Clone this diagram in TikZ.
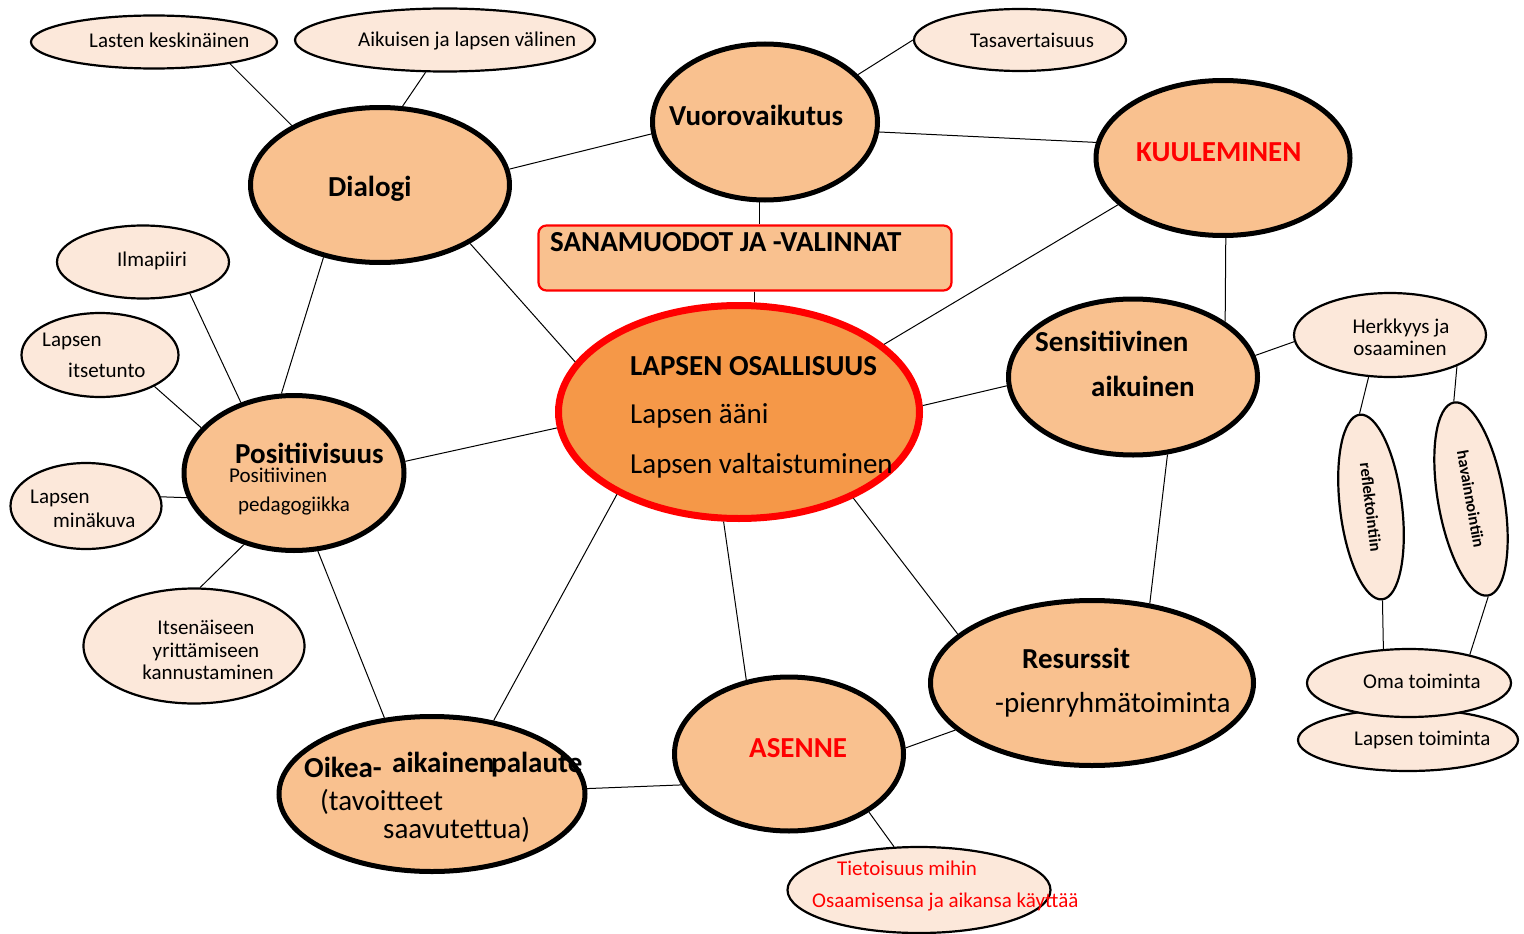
\documentclass[tikz,border=0pt]{standalone}
\usepackage{fontspec}
\setmainfont{Carlito}
\usetikzlibrary{shapes.geometric}
\definecolor{bigfill}{HTML}{F9C18F}
\definecolor{cenfill}{HTML}{F59848}
\definecolor{smallfill}{HTML}{FCE8DA}
\definecolor{myred}{HTML}{FF0000}
\begin{document}
\begin{tikzpicture}[x=1pt,y=-1pt,
  big/.style={ellipse, draw=black, line width=5pt, fill=bigfill, inner sep=0pt},
  small/.style={ellipse, draw=black, line width=2.2pt, fill=smallfill, inner sep=0pt},
  conn/.style={line width=1pt},
  tl/.style={font=\fontsize{29}{35}\selectfont, anchor=base west, inner sep=0pt},
  tlb/.style={font=\fontsize{29}{35}\selectfont\bfseries, anchor=base west, inner sep=0pt},
  ts/.style={font=\fontsize{21}{25}\selectfont, anchor=base west, inner sep=0pt},
  tsc/.style={font=\fontsize{21}{25}\selectfont, anchor=base, inner sep=0pt},
  tv/.style={font=\fontsize{16.5}{20}\selectfont\bfseries},
]
\useasboundingbox (0,0) rectangle (1524,934);

% small ellipses
\node[small, minimum width=246, minimum height=53] (las) at (154,42) {};
\node[small, minimum width=300, minimum height=63] (aik) at (445,40) {};
\node[small, minimum width=212, minimum height=62] (tas) at (1020,40) {};
\node[small, minimum width=172, minimum height=73] (ilm) at (143,262) {};
\node[small, minimum width=157, minimum height=84] (its) at (100,355) {};
\node[small, minimum width=151, minimum height=86] (min) at (86,506) {};
\node[small, minimum width=221, minimum height=115] (itn) at (194,646) {};
\node[small, minimum width=192, minimum height=84] (her) at (1390,335) {};
\node[small, tv, minimum width=186, minimum height=62, rotate=-83] (refl) at (1371,507) {reflektointiin};
\node[small, tv, minimum width=196, minimum height=66, rotate=-80] (hav) at (1471,499) {havainnointiin};
\node[small, minimum width=220, minimum height=62] (lap) at (1408,740) {};
\node[small, minimum width=204, minimum height=68] (oma) at (1409,683) {};
\node[small, minimum width=263, minimum height=86] (tie) at (919,890) {};

% big ellipses
\node[big, minimum width=259, minimum height=155] (dia) at (380,185) {};
\node[big, minimum width=225, minimum height=156] (vuo) at (765,122) {};
\node[big, minimum width=254, minimum height=155] (kuu) at (1223,158) {};
\node[big, minimum width=249, minimum height=156] (sen) at (1133,377) {};
\node[big, minimum width=323, minimum height=165] (res) at (1092,683) {};
\node[big, minimum width=229, minimum height=154] (ase) at (789,754) {};
\node[big, minimum width=306, minimum height=155] (oik) at (432,794) {};
\node[big, minimum width=220, minimum height=155] (pos) at (294,473) {};
\node[ellipse, draw=myred, line width=7pt, fill=cenfill, inner sep=0pt,
      minimum width=361, minimum height=213] (cen) at (739,412) {};
\node[draw=myred, line width=2.2pt, fill=bigfill, rounded corners=8pt,
      minimum width=413, minimum height=65, inner sep=0pt] (box) at (745,258) {};

% connectors
\draw[conn] (las.-16) -- (dia.146);
\draw[conn] (aik.-121) -- (dia.74);
\draw[conn] (tas.180) -- (vuo.27);
\draw[conn] (dia.7) -- (vuo.-174);
\draw[conn] (vuo.-5) -- (kuu.173);
\draw[conn] (vuo.-94) -- (vuo.-94 |- box.north);
\draw[conn] (box.south -| cen.82) -- (cen.82);
\draw[conn] (dia.-33) -- (cen.163);
\draw[conn] (dia.-128) -- (pos.99);
\draw[conn] (kuu.-156) -- (cen.25);
\draw[conn] (kuu.-88) -- (sen.31);
\draw[conn] (sen.184) -- (cen.2);
\draw[conn] (sen.10) -- (her.184);
\draw[conn] (sen.-66) -- (res.54);
\draw[conn] (her.-117) -- (refl.west);
\draw[conn] (her.-25) -- (hav.west);
\draw[conn] (refl.east) -- (oma.127);
\draw[conn] (hav.east) -- (oma.25);
\draw[conn] (cen.-37) -- (res.160);
\draw[conn] (cen.-98) -- (ase.120);
\draw[conn] (cen.-146) -- (oik.50);
\draw[conn] (cen.185) -- (pos.6);
\draw[conn] (ilm.-34) -- (pos.127);
\draw[conn] (its.-30) -- (pos.154);
\draw[conn] (min.7) -- (pos.193);
\draw[conn] (itn.84) -- (pos.235);
\draw[conn] (pos.-73) -- (oik.122);
\draw[conn] (oik.2) -- (ase.196);
\draw[conn] (ase.3) -- (res.-161);
\draw[conn] (ase.-36) -- (tie.120);

% texts
\node[ts] (tlas) at (89,48) {Lasten keskinäinen};
\node[ts] (taik) at (358,47) {Aikuisen ja lapsen välinen};
\node[ts] (ttas) at (970,48) {Tasavertaisuus};
\node[tlb] (tdia) at (328,196) {Dialogi};
\node[tlb] (tvuo) at (669,125) {Vuorovaikutus};
\node[tlb, text=myred] (tkuu) at (1136,161) {KUULEMINEN};
\node[tlb] (tbox) at (550,251) {SANAMUODOT JA -VALINNAT};
\node[tlb] (tcen1) at (630,375) {LAPSEN OSALLISUUS};
\node[tl] (tcen2) at (630,423) {Lapsen ääni};
\node[tl] (tcen3) at (630,473) {Lapsen valtaistuminen};
\node[tlb] (tsen1) at (1035,351) {Sensitiivinen};
\node[tlb] (tsen2) at (1091,396) {aikuinen};
\node[tsc] (ther1) at (1401,333) {Herkkyys ja};
\node[tsc] (ther2) at (1400,355) {osaaminen};
\node[ts] (toma) at (1363,688) {Oma toiminta};
\node[ts] (tlap) at (1354,745) {Lapsen toiminta};
\node[tlb] (tres1) at (1022,668) {Resurssit};
\node[tl] (tres2) at (995,712) {-pienryhmätoiminta};
\node[tlb, text=myred] (tase) at (749,757) {ASENNE};
\node[ts, text=myred] (ttie1) at (837,875) {Tietoisuus mihin};
\node[ts, text=myred] (ttie2) at (812,907) {Osaamisensa ja aikansa käyttää};
\node[tlb] (toik1) at (304,777) {Oikea-};
\node[tlb] (toik2) at (392,772) {aikainen};
\begin{scope}
\clip (0,0) rectangle (583,934);
\node[tlb] (toik3) at (491,772) {palaute};
\end{scope}
\node[tl] (toik4) at (320,810) {(tavoitteet};
\node[tl] (toik5) at (383,838) {saavutettua)};
\node[tlb] (tpos1) at (235,463) {Positiivisuus};
\node[ts] (tpos2) at (229,482) {Positiivinen};
\node[ts] (tpos3) at (238,511) {pedagogiikka};
\node[ts] (tilm) at (117,266) {Ilmapiiri};
\node[ts] (tits1) at (42,346) {Lapsen};
\node[ts] (tits2) at (68,377) {itsetunto};
\node[ts] (tmin1) at (30,503) {Lapsen};
\node[ts] (tmin2) at (53,527) {minäkuva};
\node[tsc] (titn1) at (206,634) {Itsenäiseen};
\node[tsc] (titn2) at (206,657) {yrittämiseen};
\node[tsc] (titn3) at (208,679) {kannustaminen};
\end{tikzpicture}
\end{document}
